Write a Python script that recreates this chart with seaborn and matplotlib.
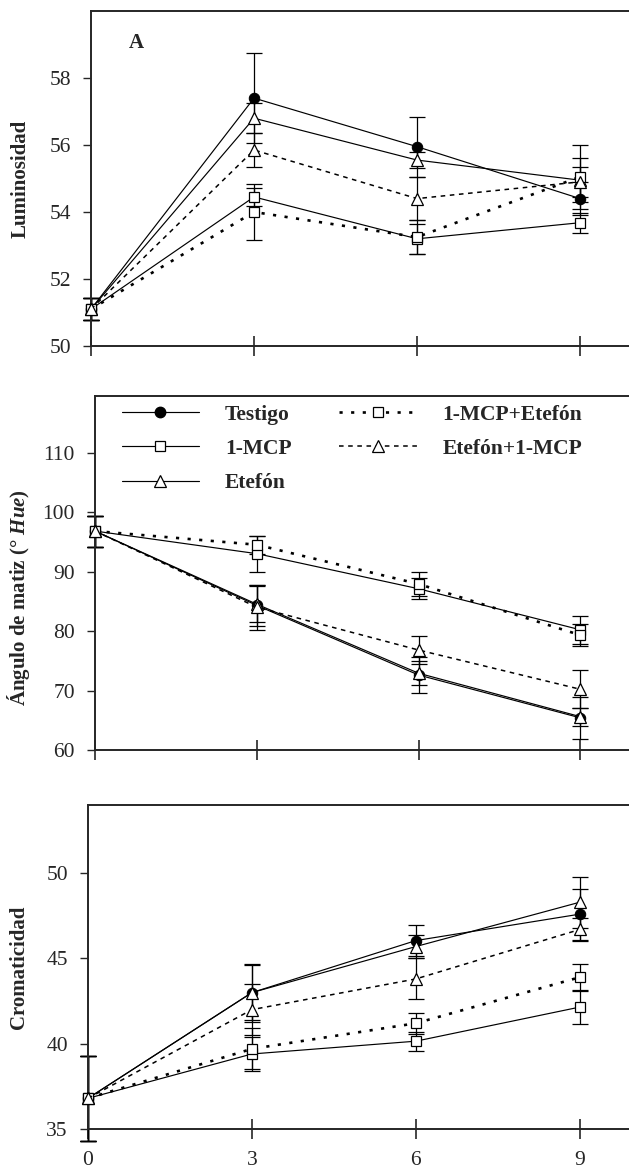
import numpy as np
import pandas as pd
import matplotlib
matplotlib.use("Agg")
import matplotlib.pyplot as plt
import seaborn as sns
from matplotlib.lines import Line2D

sns.set_style("ticks")
plt.rcParams['font.family'] = 'serif'
plt.rcParams['font.serif'] = ['Liberation Serif', 'DejaVu Serif']
plt.rcParams['mathtext.fontset'] = 'custom'
plt.rcParams['mathtext.it'] = 'Liberation Serif:bold:italic'
plt.rcParams['mathtext.rm'] = 'Liberation Serif:bold'
plt.rcParams['axes.unicode_minus'] = False

# dias de almacenamiento
days = [0, 3, 6, 9]
tratamientos = ["Testigo", "1-MCP", "Etefón", "1-MCP+Etefón", "Etefón+1-MCP"]

# Luminosidad (panel A)
lum_testigo = [51.1, 57.4, 55.95, 54.4]
lum_mcp = [51.1, 54.45, 53.2, 53.68]
lum_etefon = [51.1, 56.8, 55.55, 54.95]
lum_mcp_etefon = [51.1, 54.0, 53.25, 55.05]
lum_etefon_mcp = [51.1, 55.85, 54.4, 54.9]
lum_err_testigo = [0.33, 1.35, 0.9, 0.5]
lum_err_mcp = [0.33, 0.27, 0.45, 0.3]
lum_err_etefon = [0.33, 0.45, 0.25, 0.65]
lum_err_mcp_etefon = [0.33, 0.85, 0.5, 0.95]
lum_err_etefon_mcp = [0.33, 0.5, 0.65, 0.45]

# Angulo de matiz (panel B)
hue_testigo = [96.8, 84.3, 72.6, 65.4]
hue_mcp = [96.8, 93.0, 87.1, 80.2]
hue_etefon = [96.8, 84.5, 72.9, 65.6]
hue_mcp_etefon = [96.8, 94.5, 87.9, 79.3]
hue_etefon_mcp = [96.8, 84.0, 76.8, 70.2]
hue_err_testigo = [2.6, 3.5, 3.0, 3.5]
hue_err_mcp = [2.6, 3.0, 1.8, 2.3]
hue_err_etefon = [2.6, 3.0, 2.0, 1.5]
hue_err_mcp_etefon = [2.6, 1.5, 2.0, 1.8]
hue_err_etefon_mcp = [2.6, 3.8, 2.4, 3.2]

# Cromaticidad (panel C)
cro_testigo = [36.8, 43.0, 46.05, 47.6]
cro_mcp = [36.8, 39.4, 40.15, 42.15]
cro_etefon = [36.8, 43.0, 45.7, 48.3]
cro_mcp_etefon = [36.8, 39.7, 41.2, 43.9]
cro_etefon_mcp = [36.8, 42.0, 43.8, 46.7]
cro_err_testigo = [2.5, 1.6, 0.9, 1.5]
cro_err_mcp = [2.5, 1.0, 0.55, 1.0]
cro_err_etefon = [2.5, 1.7, 0.7, 1.5]
cro_err_mcp_etefon = [2.5, 1.2, 0.6, 0.8]
cro_err_etefon_mcp = [2.5, 1.5, 1.2, 0.7]

estilos = {
    "Testigo": dict(linestyle='-', lw=0.85, marker='o', ms=7.5, mfc='black', mec='black'),
    "1-MCP": dict(linestyle='-', lw=0.85, marker='s', ms=7.5, mfc='white', mec='black', mew=0.9),
    "Etefón": dict(linestyle='-', lw=0.85, marker='^', ms=8.5, mfc='white', mec='black', mew=0.9),
    "1-MCP+Etefón": dict(linestyle=(0, (1.2, 3.2)), lw=1.9, marker='s', ms=7.5, mfc='white', mec='black', mew=0.9),
    "Etefón+1-MCP": dict(linestyle=(0, (3, 3)), lw=1.1, marker='^', ms=8.5, mfc='white', mec='black', mew=0.9),
}


def make_df(vals, errs):
    rows = []
    for t, v, e in zip(tratamientos, vals, errs):
        for d, m, s in zip(days, v, e):
            rows.append({"dia": d, "valor": m, "err": s, "trat": t})
    return pd.DataFrame(rows)


df_lum = make_df([lum_testigo, lum_mcp, lum_etefon, lum_mcp_etefon, lum_etefon_mcp],
                 [lum_err_testigo, lum_err_mcp, lum_err_etefon, lum_err_mcp_etefon, lum_err_etefon_mcp])
df_hue = make_df([hue_testigo, hue_mcp, hue_etefon, hue_mcp_etefon, hue_etefon_mcp],
                 [hue_err_testigo, hue_err_mcp, hue_err_etefon, hue_err_mcp_etefon, hue_err_etefon_mcp])
df_cro = make_df([cro_testigo, cro_mcp, cro_etefon, cro_mcp_etefon, cro_etefon_mcp],
                 [cro_err_testigo, cro_err_mcp, cro_err_etefon, cro_err_mcp_etefon, cro_err_etefon_mcp])

fig = plt.figure(figsize=(6.29, 11.74), dpi=100)
axA = fig.add_axes([91/629, (1174-346)/1174, 538/629, 335/1174])
axB = fig.add_axes([95/629, (1174-750)/1174, 534/629, 354/1174])
axC = fig.add_axes([88/629, (1174-1129)/1174, 541/629, 324/1174])


def draw_panel(ax, df, ylim, yticks, ylabel, label_y, label_x):
    for t in tratamientos:
        sub = df[df["trat"] == t]
        ax.errorbar(sub["dia"], sub["valor"], yerr=sub["err"], fmt='none',
                    ecolor='black', elinewidth=0.9, capsize=5.5, capthick=0.9,
                    zorder=2, clip_on=False)
        sns.lineplot(data=sub, x="dia", y="valor", ax=ax, color='black',
                     estimator=None, errorbar=None, zorder=3, clip_on=False,
                     legend=False, **estilos[t])
    ax.set_xlim(0, 9.9)
    ax.set_ylim(*ylim)
    ax.set_yticks(yticks)
    ax.set_xticks(days)
    ax.tick_params(axis='y', direction='out', length=6, width=1.0, labelsize=15.5, pad=8.5)
    ax.tick_params(axis='x', direction='inout', length=14, width=1.2, labelsize=15.5, pad=9)
    for s in ["left", "bottom", "top"]:
        ax.spines[s].set_linewidth(1.4)
    ax.spines["right"].set_visible(False)
    ax.set_xlabel("")
    ax.set_ylabel(ylabel, fontsize=15, fontweight='bold')
    ax.yaxis.set_label_coords(label_x, label_y)


draw_panel(axA, df_lum, (50, 60), [50, 52, 54, 56, 58], "Luminosidad", 0.5, -0.112)
draw_panel(axB, df_hue, (60, 119.5), [60, 70, 80, 90, 100, 110],
           r"Ángulo de matiz (° $\mathit{Hue}$)", 0.43, -0.118)
draw_panel(axC, df_cro, (35, 54), [35, 40, 45, 50], "Cromaticidad", 0.5, -0.109)

axA.set_xticklabels([])
axB.set_xticklabels([])
axC.set_xticklabels([str(d) for d in days])

axA.text(0.085, 0.905, "A", transform=axA.transAxes, fontsize=15,
         fontweight='bold', ha='center', va='center')

handles = [Line2D([], [], color='black', **estilos[t]) for t in tratamientos]
axB.legend(handles, tratamientos, ncol=2, loc='upper left',
           bbox_to_anchor=(0.05, 0.975), frameon=False, handlelength=3.6,
           handletextpad=1.2, columnspacing=2.2, labelspacing=0.65,
           borderaxespad=0, borderpad=0, numpoints=1,
           prop={'family': 'serif', 'weight': 'bold', 'size': 15.5})

plt.savefig("out.png", dpi=100)
plt.close()
